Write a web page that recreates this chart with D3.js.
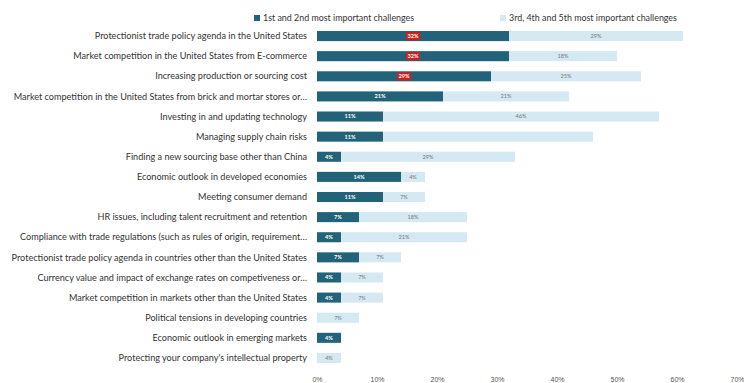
<!doctype html>
<html>
<head>
	<meta charset="utf-8">
	<title></title>
	<style>
		body { margin: 0; background: #fff; }
		svg { display: block; font-family: "Lato", "Open Sans", sans-serif; }
		.cat { font-size: 9.1px; fill: #333; }
		.legend text { font-size: 8.9px; fill: #333; }
		.tick text { font-size: 7px; fill: #555; }
		.val-dark { font-size: 5.6px; font-weight: bold; fill: #fff; }
		.val-light { font-size: 5.6px; fill: #777; }
	</style>
</head>
<body>

	<svg width="744" height="383"></svg>

	<script src="https://d3js.org/d3.v7.min.js"></script>
	<script>

		const categories = [
			"Protectionist trade policy agenda in the United States",
			"Market competition in the United States from E-commerce",
			"Increasing production or sourcing cost",
			"Market competition in the United States from brick and mortar stores or\u2026",
			"Investing in and updating technology",
			"Managing supply chain risks",
			"Finding a new sourcing base other than China",
			"Economic outlook in developed economies",
			"Meeting consumer demand",
			"HR issues, including talent recruitment and retention",
			"Compliance with trade regulations (such as rules of origin, requirement\u2026",
			"Protectionist trade policy agenda in countries other than the United States",
			"Currency value and impact of exchange rates on competiveness or\u2026",
			"Market competition in markets other than the United States",
			"Political tensions in developing countries",
			"Economic outlook in emerging markets",
			"Protecting your company's intellectual property"
		];

		// 1st and 2nd most important challenges (%)
		const top2 = [32, 32, 29, 21, 11, 11, 4, 14, 11, 7, 4, 7, 4, 4, 0, 4, 0];
		// 3rd, 4th and 5th most important challenges (%)
		const next3 = [29, 18, 25, 21, 46, 35, 29, 4, 7, 18, 21, 7, 7, 7, 7, 0, 4];
		// labels shown on the light bars (one is left blank in the original)
		const next3Shown = [true, true, true, true, true, false, true, true, true, true, true, true, true, true, true, false, true];
		// the three top values highlighted in red
		const highlight = [true, true, true];

		const ticks = [0, 10, 20, 30, 40, 50, 60, 70];
		const seriesNames = [ "1st and 2nd most important challenges", "3rd, 4th and 5th most important challenges" ];

		const dark = "#23637a";
		const light = "#d5e9f2";
		const red = "#c9211e";

		const svg = d3.select( "svg" );

		const x = d3.scaleLinear()
				.domain( [ 0, 70 ] )
				.range( [ 317, 737 ] );

		const y = d3.scaleBand()
				.domain( categories )
				.range( [ 26, 368 ] )
				.paddingInner( 0.5 )
				.paddingOuter( 0.25 );

		const rows = categories.map( ( c, i ) => {
			return { cat: c, a: top2[ i ], b: next3[ i ], showB: next3Shown[ i ], hi: highlight[ i ] };
		});

		// category labels
		svg.append( "g" )
			.selectAll( "text" )
			.data( rows )
			.enter().append( "text" )
				.attr( "class", "cat" )
				.attr( "x", 307 )
				.attr( "y", d => y( d.cat ) + y.bandwidth() / 2 )
				.attr( "dy", "0.35em" )
				.attr( "text-anchor", "end" )
				.text( d => d.cat );

		// light bars
		svg.append( "g" )
			.selectAll( "rect" )
			.data( rows.filter( d => d.b > 0 ) )
			.enter().append( "rect" )
				.attr( "x", d => x( d.a ) )
				.attr( "y", d => y( d.cat ) )
				.attr( "width", d => x( d.a + d.b ) - x( d.a ) )
				.attr( "height", y.bandwidth() )
				.attr( "fill", light );

		// dark bars
		svg.append( "g" )
			.selectAll( "rect" )
			.data( rows.filter( d => d.a > 0 ) )
			.enter().append( "rect" )
				.attr( "x", x( 0 ) )
				.attr( "y", d => y( d.cat ) )
				.attr( "width", d => x( d.a ) - x( 0 ) )
				.attr( "height", y.bandwidth() )
				.attr( "fill", dark );

		// red boxes behind highlighted values
		svg.append( "g" )
			.selectAll( "rect" )
			.data( rows.filter( d => d.hi ) )
			.enter().append( "rect" )
				.attr( "x", d => ( x( 0 ) + x( d.a ) ) / 2 - 7 )
				.attr( "y", d => y( d.cat ) + 1 )
				.attr( "width", 14 )
				.attr( "height", y.bandwidth() - 2 )
				.attr( "fill", red );

		// values on dark bars
		svg.append( "g" )
			.selectAll( "text" )
			.data( rows.filter( d => d.a > 0 ) )
			.enter().append( "text" )
				.attr( "class", "val-dark" )
				.attr( "x", d => ( x( 0 ) + x( d.a ) ) / 2 )
				.attr( "y", d => y( d.cat ) + y.bandwidth() / 2 )
				.attr( "dy", "0.35em" )
				.attr( "text-anchor", "middle" )
				.text( d => d.a + "%" );

		// values on light bars
		svg.append( "g" )
			.selectAll( "text" )
			.data( rows.filter( d => d.b > 0 && d.showB ) )
			.enter().append( "text" )
				.attr( "class", "val-light" )
				.attr( "x", d => ( x( d.a ) + x( d.a + d.b ) ) / 2 )
				.attr( "y", d => y( d.cat ) + y.bandwidth() / 2 )
				.attr( "dy", "0.35em" )
				.attr( "text-anchor", "middle" )
				.text( d => d.b + "%" );

		// x axis
		const axis = svg.append( "g" )
				.attr( "transform", "translate(0,374)" )
				.call( d3.axisBottom( x ).tickValues( ticks ).tickFormat( d => d + "%" ).tickSize( 0 ) );
		axis.select( ".domain" ).remove();

		// legend
		const legend = svg.append( "g" ).attr( "class", "legend" );
		const legendX = [ 254, 500 ];
		const legendColors = [ dark, light ];
		seriesNames.forEach( ( name, i ) => {
			legend.append( "rect" )
				.attr( "x", legendX[ i ] )
				.attr( "y", 15 )
				.attr( "width", 6 )
				.attr( "height", 6 )
				.attr( "fill", legendColors[ i ] );
			legend.append( "text" )
				.attr( "x", legendX[ i ] + 9 )
				.attr( "y", 18 )
				.attr( "dy", "0.35em" )
				.text( name );
		});

	</script>

</body>
</html>
